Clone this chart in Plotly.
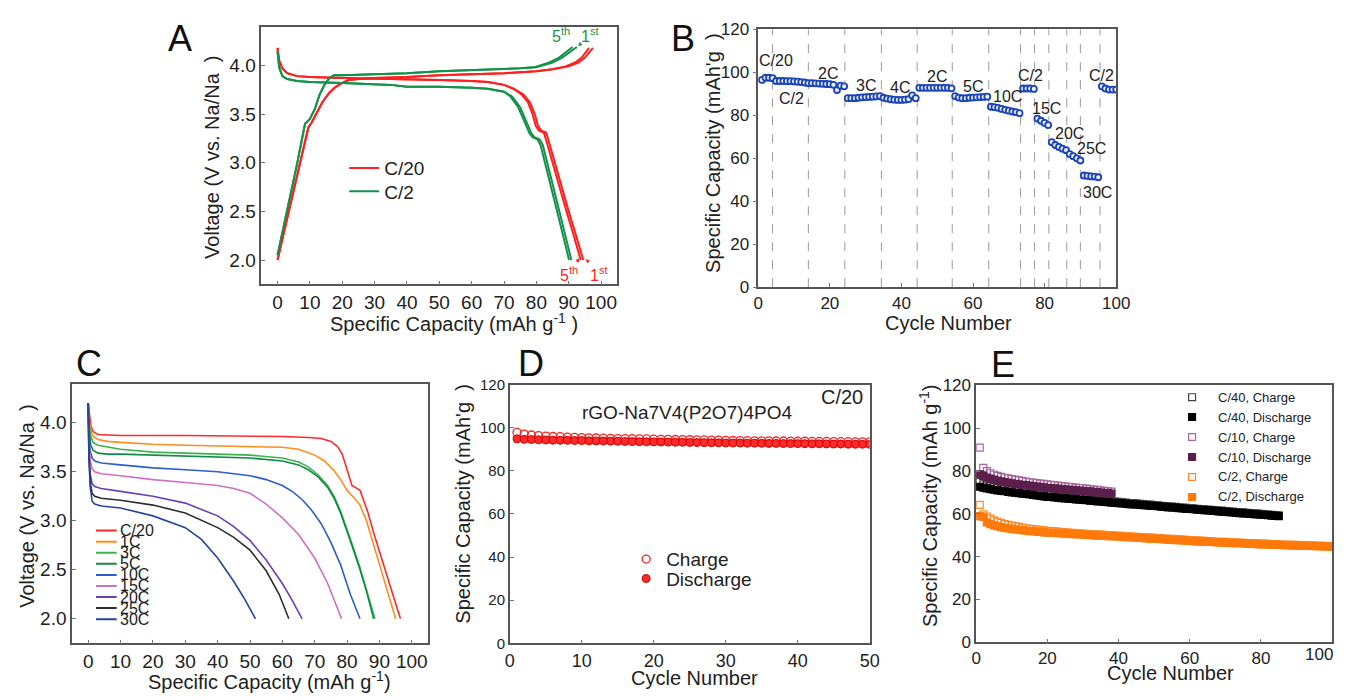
import plotly.graph_objects as go

FONT = "Arial, 'Liberation Sans', Helvetica, sans-serif"
NARROW = "'Liberation Sans Narrow', 'Arial Narrow', Arial, sans-serif"
W, H = 1352, 700

# ---------------- Panel A data (charge / discharge, 1st and 5th cycles) ----------------
A_c20_ch1_x = [0, 3, 6, 9.5, 10.5, 12, 14, 16, 18, 20, 22, 25, 30, 40, 50, 60, 70, 80, 85, 90, 93, 95, 96.5, 97.5]
A_c20_ch1_y = [2.0, 2.42, 2.84, 3.36, 3.41, 3.50, 3.63, 3.72, 3.78, 3.82, 3.85, 3.86, 3.87, 3.88, 3.90, 3.91, 3.92, 3.94, 3.96, 3.99, 4.03, 4.08, 4.14, 4.18]
A_c20_ch5_x = [0, 3, 6, 9.5, 10.5, 12, 14, 16, 18, 20, 22, 25, 30, 40, 50, 60, 70, 80, 85, 89, 92, 94, 95.3, 96.3]
A_c20_ch5_y = [2.0, 2.42, 2.84, 3.36, 3.41, 3.50, 3.63, 3.72, 3.78, 3.82, 3.85, 3.86, 3.87, 3.88, 3.90, 3.91, 3.92, 3.94, 3.96, 3.99, 4.03, 4.08, 4.14, 4.18]
A_c20_dis1_x = [0, 0.5, 1.5, 3, 6, 10, 20, 30, 40, 50, 60, 65, 70, 73, 76, 78, 79.5, 80.5, 81.5, 83, 84, 86, 88, 90, 92, 94.5]
A_c20_dis1_y = [4.18, 4.05, 3.97, 3.92, 3.89, 3.88, 3.87, 3.865, 3.86, 3.85, 3.84, 3.83, 3.80, 3.76, 3.70, 3.62, 3.50, 3.38, 3.33, 3.31, 3.20, 2.96, 2.73, 2.50, 2.28, 2.0]
A_c20_dis5_x = [0, 0.5, 1.5, 3, 6, 10, 20, 30, 40, 50, 60, 65, 70, 73, 75.5, 77.4, 78.8, 79.8, 80.8, 82.3, 83.3, 85.3, 87.3, 89.3, 91.3, 93.7]
A_c20_dis5_y = [4.18, 4.05, 3.97, 3.92, 3.89, 3.88, 3.87, 3.865, 3.86, 3.85, 3.84, 3.83, 3.80, 3.76, 3.70, 3.62, 3.50, 3.38, 3.33, 3.31, 3.20, 2.96, 2.73, 2.50, 2.28, 2.0]

A_c2_ch1_x = [0, 3, 6, 8.5, 10, 11.5, 13, 14.5, 16, 17.5, 20, 30, 40, 50, 60, 70, 75, 80, 85, 88, 90, 92.5]
A_c2_ch1_y = [2.05, 2.5, 2.98, 3.40, 3.45, 3.55, 3.70, 3.80, 3.87, 3.90, 3.90, 3.91, 3.92, 3.94, 3.95, 3.96, 3.97, 3.98, 4.03, 4.08, 4.13, 4.19]
A_c2_ch5_x = [0, 3, 6, 8.5, 10, 11.5, 13, 14.5, 16, 17.5, 20, 30, 40, 50, 60, 70, 75, 79.2, 84, 87, 89, 91.2]
A_c2_ch5_y = [2.05, 2.5, 2.98, 3.40, 3.45, 3.55, 3.70, 3.80, 3.87, 3.90, 3.90, 3.91, 3.92, 3.94, 3.95, 3.96, 3.97, 3.98, 4.03, 4.08, 4.13, 4.19]
A_c2_dis1_x = [0, 0.5, 1.5, 3, 6, 10, 20, 30, 35, 40, 50, 60, 65, 70, 72.5, 75, 77, 78.5, 79.5, 81, 82, 84, 86, 88, 90.8]
A_c2_dis1_y = [4.15, 3.98, 3.89, 3.86, 3.84, 3.83, 3.82, 3.81, 3.80, 3.78, 3.78, 3.77, 3.76, 3.73, 3.68, 3.57, 3.42, 3.30, 3.26, 3.24, 3.18, 2.92, 2.65, 2.38, 2.0]
A_c2_dis5_x = [0, 0.5, 1.5, 3, 6, 10, 20, 30, 35, 40, 50, 60, 65, 70, 72, 74.4, 76.4, 77.9, 78.9, 80.3, 81.3, 83.3, 85.3, 87.3, 90.1]
A_c2_dis5_y = [4.15, 3.98, 3.89, 3.86, 3.84, 3.83, 3.82, 3.81, 3.80, 3.78, 3.78, 3.77, 3.76, 3.73, 3.68, 3.57, 3.42, 3.30, 3.26, 3.24, 3.18, 2.92, 2.65, 2.38, 2.0]

# ---------------- Panel B data (rate capability) ----------------
B_cycle = list(range(1, 101))
B_capacity = [
    96.5, 97.5, 97.5, 97.3,
    96.0, 96.0, 96.0, 95.9, 95.9, 95.8, 95.7, 95.5, 95.3, 95.0,
    95.0, 94.9, 94.8, 94.7, 94.6, 94.5, 94.2, 91.8, 93.8, 93.5,
    88.0, 88.0, 88.0, 88.2, 88.4, 88.5, 88.6, 88.7, 88.8, 89.0,
    88.2, 87.8, 87.5, 87.3, 87.2, 87.2, 87.3, 87.6, 89.3, 88.0,
    92.8, 92.8, 92.8, 92.8, 92.8, 92.8, 92.8, 92.8, 92.8, 92.6,
    89.0, 88.3, 88.0, 88.0, 88.2, 88.3, 88.4, 88.5, 88.6, 88.7,
    84.0, 83.8, 83.5, 83.0, 82.6, 82.2, 81.8, 81.5, 81.0,
    92.5, 92.5, 92.5, 92.3,
    78.5, 77.5, 76.5, 75.5,
    67.5, 66.2, 65.3, 64.5, 63.8,
    62.0, 61.0, 60.0, 59.0,
    52.0, 51.8, 51.6, 51.5, 51.2,
    93.5, 92.5, 92.0, 92.0, 92.0,
]
B_dividers = [4, 14, 24.2, 34.4, 44.4, 54.2, 64.4, 73.3, 77.2, 81.2, 86.2, 90, 95.5]
B_labels = ["C/20", "C/2", "2C", "3C", "4C", "2C", "5C", "10C", "C/2", "15C", "20C", "25C", "30C", "C/2"]
B_label_x = [5, 9.4, 19.6, 30, 39.7, 50, 60, 69.7, 76, 80.4, 87, 93, 94.7, 96]
B_label_y = [105.4, 88, 99.5, 94, 93, 98, 93.6, 88.7, 98.6, 83.3, 71.5, 64.7, 43.9, 98.6]

# ---------------- Panel C data (discharge curves at different rates) ----------------
C_names = ["C/20", "1C", "3C", "5C", "10C", "15C", "20C", "25C", "30C"]
C_colors = ["#ff2a2a", "#ff8c1f", "#3cb44b", "#108a48", "#2c5fc8", "#d070c0", "#6a40b4", "#2e2e2e", "#25479a"]
C_x_c20 = [0, 0.3, 0.8, 1.5, 3, 6, 10, 30, 50, 60, 68, 72, 75, 77, 78.5, 79.5, 80.5, 81.5, 83, 84, 85, 86.5, 88, 90, 92.5, 94.5, 96.5]
C_y_c20 = [4.2, 4.08, 3.97, 3.91, 3.88, 3.875, 3.87, 3.87, 3.865, 3.86, 3.85, 3.84, 3.81, 3.76, 3.68, 3.58, 3.46, 3.36, 3.33, 3.31, 3.22, 3.08, 2.9, 2.68, 2.42, 2.21, 2.0]
C_x_1c = [0, 0.3, 0.8, 1.5, 3, 6, 10, 20, 30, 40, 50, 60, 65, 70, 73, 76, 78, 80, 82, 84, 86, 88, 90, 92.5, 95]
C_y_1c = [4.2, 4.02, 3.92, 3.86, 3.83, 3.81, 3.8, 3.78, 3.77, 3.765, 3.76, 3.75, 3.73, 3.67, 3.61, 3.51, 3.42, 3.31, 3.24, 3.16, 3.0, 2.78, 2.55, 2.28, 2.0]
C_x_3c = [0, 0.3, 0.8, 1.5, 3, 6, 10, 20, 30, 40, 50, 60, 65, 68, 71, 74, 76, 78, 80, 82, 84, 86, 88.6]
C_y_3c = [4.2, 3.98, 3.86, 3.8, 3.77, 3.75, 3.73, 3.70, 3.69, 3.68, 3.67, 3.64, 3.60, 3.55, 3.47, 3.36, 3.25, 3.10, 2.92, 2.72, 2.52, 2.30, 2.0]
C_x_5c = [0, 0.3, 0.8, 1.5, 3, 6, 10, 20, 30, 40, 50, 60, 65, 68, 71, 74, 76, 78, 80, 82, 84, 86, 88.2]
C_y_5c = [4.2, 3.9, 3.77, 3.72, 3.69, 3.68, 3.68, 3.67, 3.66, 3.65, 3.64, 3.61, 3.57, 3.52, 3.45, 3.34, 3.23, 3.08, 2.90, 2.70, 2.50, 2.28, 2.0]
C_x_10c = [0, 0.2, 0.6, 1.2, 2, 4, 10, 20, 30, 40, 45, 50, 55, 60, 63, 66, 69, 72, 75, 78, 81, 84]
C_y_10c = [4.2, 3.9, 3.72, 3.64, 3.61, 3.59, 3.57, 3.54, 3.52, 3.50, 3.48, 3.46, 3.42, 3.36, 3.30, 3.22, 3.11, 2.97, 2.78, 2.55, 2.25, 2.0]
C_x_15c = [0, 0.2, 0.6, 1.2, 2, 4, 10, 20, 30, 40, 45, 50, 55, 60, 65, 70, 74, 78.3]
C_y_15c = [4.2, 3.85, 3.62, 3.53, 3.5, 3.48, 3.46, 3.42, 3.39, 3.36, 3.33, 3.28, 3.17, 3.03, 2.86, 2.62, 2.36, 2.0]
C_x_20c = [0, 0.2, 0.6, 1.2, 2, 4, 10, 20, 30, 40, 45, 50, 55, 60, 63, 66.1]
C_y_20c = [4.2, 3.75, 3.48, 3.38, 3.35, 3.33, 3.30, 3.25, 3.18, 3.05, 2.94, 2.80, 2.60, 2.36, 2.19, 2.0]
C_x_25c = [0, 0.2, 0.6, 1.2, 2, 4, 10, 20, 30, 40, 45, 50, 55, 59, 62]
C_y_25c = [4.2, 3.7, 3.4, 3.28, 3.25, 3.23, 3.21, 3.16, 3.08, 2.93, 2.83, 2.70, 2.49, 2.25, 2.0]
C_x_30c = [0, 0.2, 0.6, 1.2, 2, 4, 10, 20, 30, 35, 40, 45, 48, 51.7]
C_y_30c = [4.2, 3.65, 3.35, 3.2, 3.17, 3.15, 3.13, 3.05, 2.93, 2.81, 2.62, 2.38, 2.22, 2.0]
C_xs = [C_x_c20, C_x_1c, C_x_3c, C_x_5c, C_x_10c, C_x_15c, C_x_20c, C_x_25c, C_x_30c]
C_ys = [C_y_c20, C_y_1c, C_y_3c, C_y_5c, C_y_10c, C_y_15c, C_y_20c, C_y_25c, C_y_30c]

# ---------------- Panel D data (C/20 cycling) ----------------
D_cycle = list(range(1, 51))
D_charge = [97.8, 97.0, 96.6, 96.3, 96.1, 95.9, 95.8, 95.6, 95.5, 95.4,
            95.3, 95.2, 95.1, 95.0, 94.95, 94.9, 94.85, 94.8, 94.75, 94.7,
            94.6, 94.55, 94.5, 94.45, 94.4, 94.35, 94.3, 94.25, 94.2, 94.1,
            94.05, 94.0, 93.95, 93.9, 93.9, 93.85, 93.8, 93.8, 93.75, 93.7,
            93.7, 93.65, 93.6, 93.6, 93.55, 93.5, 93.5, 93.45, 93.4, 93.4]
D_discharge = [94.8, 94.6, 94.5, 94.4, 94.3, 94.2, 94.15, 94.1, 94.05, 94.0,
               93.9, 93.85, 93.8, 93.75, 93.7, 93.6, 93.55, 93.5, 93.45, 93.4,
               93.35, 93.3, 93.25, 93.2, 93.15, 93.1, 93.05, 93.0, 92.95, 92.9,
               92.9, 92.85, 92.8, 92.8, 92.75, 92.7, 92.7, 92.65, 92.6, 92.6,
               92.55, 92.5, 92.5, 92.45, 92.4, 92.4, 92.35, 92.3, 92.3, 92.25]

# ---------------- Panel E data (long cycling at C/40, C/10, C/2) ----------------
E_c40_charge = [74.8, 73.8, 73.2, 72.8, 72.4, 72.1, 71.8, 71.6, 71.3, 71.1,
                70.8, 70.6, 70.4, 70.2, 70.0, 69.8, 69.5, 69.3, 69.1, 68.9,
                68.7, 68.5, 68.4, 68.2, 68.0, 67.8, 67.7, 67.5, 67.4, 67.2,
                67.0, 66.8, 66.7, 66.5, 66.4, 66.2, 66.0, 65.9, 65.7, 65.6,
                65.4, 65.3, 65.1, 65.0, 64.9, 64.7, 64.6, 64.4, 64.3, 64.1,
                64.0, 63.8, 63.7, 63.5, 63.4, 63.3, 63.1, 63.0, 62.8, 62.7,
                62.6, 62.4, 62.3, 62.1, 62.0, 61.9, 61.7, 61.6, 61.5, 61.3,
                61.2, 61.1, 60.9, 60.8, 60.7, 60.5, 60.4, 60.3, 60.1, 60.0,
                59.9, 59.7, 59.6, 59.5, 59.3]
E_c40_discharge = [72.7, 72.3, 71.9, 71.6, 71.3, 71.0, 70.8, 70.6, 70.3, 70.1,
                   69.9, 69.7, 69.5, 69.3, 69.1, 68.9, 68.6, 68.4, 68.2, 68.0,
                   67.9, 67.7, 67.6, 67.4, 67.3, 67.1, 67.0, 66.8, 66.7, 66.5,
                   66.4, 66.2, 66.1, 65.9, 65.8, 65.6, 65.5, 65.3, 65.2, 65.0,
                   64.9, 64.8, 64.6, 64.5, 64.4, 64.2, 64.1, 64.0, 63.8, 63.7,
                   63.6, 63.4, 63.3, 63.1, 63.0, 62.9, 62.7, 62.6, 62.4, 62.3,
                   62.2, 62.0, 61.9, 61.8, 61.6, 61.5, 61.4, 61.2, 61.1, 61.0,
                   60.8, 60.7, 60.6, 60.4, 60.3, 60.2, 60.0, 59.9, 59.8, 59.6,
                   59.5, 59.4, 59.2, 59.1, 59.0]
E_c10_charge = [91.0, 81.5, 80.0, 79.0, 78.3, 77.8, 77.3, 76.9, 76.6, 76.3,
                76.0, 75.7, 75.4, 75.1, 74.8, 74.6, 74.4, 74.2, 74.0, 73.8,
                73.6, 73.4, 73.2, 73.0, 72.8, 72.6, 72.5, 72.3, 72.1, 72.0,
                71.8, 71.6, 71.4, 71.2, 71.0, 70.8, 70.6, 70.4]
E_c10_discharge = [78.5, 77.8, 77.0, 76.5, 76.0, 75.6, 75.2, 74.9, 74.6, 74.3,
                   74.0, 73.8, 73.6, 73.4, 73.2, 73.0, 72.8, 72.6, 72.4, 72.2,
                   72.1, 71.9, 71.8, 71.6, 71.5, 71.3, 71.2, 71.0, 70.9, 70.8,
                   70.6, 70.5, 70.3, 70.2, 70.0, 69.9, 69.7, 69.5]
E_c2_charge = [64.2, 59.8, 58.8, 57.8, 57.0, 56.3, 55.8, 55.3, 54.9, 54.5,
               54.2, 53.9, 53.6, 53.3, 53.1, 52.9, 52.7, 52.5, 52.3, 52.1,
               52.0, 51.8, 51.7, 51.5, 51.4, 51.3, 51.1, 51.0, 50.9, 50.8,
               50.7, 50.6, 50.5, 50.4, 50.3, 50.2, 50.1, 50.0, 49.9, 49.8,
               49.7, 49.6, 49.5, 49.4, 49.3, 49.2, 49.1, 49.0, 48.9, 48.8,
               48.7, 48.6, 48.5, 48.4, 48.3, 48.2, 48.1, 48.0, 47.9, 47.8,
               47.7, 47.6, 47.5, 47.4, 47.3, 47.2, 47.1, 47.0, 46.9, 46.9,
               46.8, 46.7, 46.6, 46.6, 46.5, 46.4, 46.3, 46.3, 46.2, 46.1,
               46.1, 46.0, 45.9, 45.9, 45.8, 45.7, 45.7, 45.6, 45.5, 45.5,
               45.4, 45.4, 45.3, 45.3, 45.2, 45.2, 45.1, 45.1, 45.0, 45.0]
E_c2_discharge = [59.0, 58.6, 56.0, 55.2, 54.6, 54.2, 53.8, 53.5, 53.2, 53.0,
                  52.8, 52.6, 52.4, 52.2, 52.0, 51.9, 51.7, 51.6, 51.4, 51.3,
                  51.2, 51.1, 51.0, 50.9, 50.8, 50.7, 50.6, 50.5, 50.4, 50.3,
                  50.2, 50.1, 50.0, 49.9, 49.8, 49.7, 49.6, 49.6, 49.5, 49.4,
                  49.3, 49.2, 49.1, 49.0, 48.9, 48.8, 48.7, 48.6, 48.5, 48.4,
                  48.3, 48.2, 48.1, 48.0, 47.9, 47.8, 47.7, 47.6, 47.5, 47.4,
                  47.3, 47.2, 47.1, 47.0, 47.0, 46.9, 46.8, 46.7, 46.6, 46.6,
                  46.5, 46.4, 46.3, 46.3, 46.2, 46.1, 46.0, 46.0, 45.9, 45.8,
                  45.8, 45.7, 45.6, 45.6, 45.5, 45.4, 45.4, 45.3, 45.2, 45.2,
                  45.1, 45.1, 45.0, 45.0, 44.9, 44.9, 44.8, 44.8, 44.7, 44.7]
E_xticks = [0, 20, 40, 60, 80, 100]

RED = "#ff1f1f"
GREEN = "#15924a"
INK = "#222222"

fig = go.Figure()

# ---- Panel A traces ----
for xs, ys, col, name, show, lg in [
    (A_c2_ch5_x, A_c2_ch5_y, GREEN, "C/2", False, "legend4"),
    (A_c2_dis5_x, A_c2_dis5_y, GREEN, "C/2", False, "legend4"),
    (A_c20_ch5_x, A_c20_ch5_y, RED, "C/20", False, "legend"),
    (A_c20_dis5_x, A_c20_dis5_y, RED, "C/20", False, "legend"),
    (A_c20_ch1_x, A_c20_ch1_y, RED, "C/20", True, "legend"),
    (A_c20_dis1_x, A_c20_dis1_y, RED, "C/20", False, "legend"),
    (A_c2_ch1_x, A_c2_ch1_y, GREEN, "C/2", True, "legend4"),
    (A_c2_dis1_x, A_c2_dis1_y, GREEN, "C/2", False, "legend4"),
]:
    fig.add_trace(go.Scatter(x=xs, y=ys, mode="lines", line=dict(color=col, width=2),
                             name=name, showlegend=show, legend=lg,
                             xaxis="x", yaxis="y"))

# ---- Panel B traces ----
fig.add_trace(go.Scatter(x=B_cycle, y=B_capacity, mode="markers", showlegend=False,
                         marker=dict(symbol="circle", size=6, color="#eef2fd",
                                     line=dict(color="#1a44b8", width=1.8)),
                         xaxis="x2", yaxis="y2"))

# ---- Panel C traces ----
for xs, ys, col, name in zip(C_xs, C_ys, C_colors, C_names):
    fig.add_trace(go.Scatter(x=xs, y=ys, mode="lines", line=dict(color=col, width=1.6),
                             name=name, showlegend=False, xaxis="x3", yaxis="y3"))

# ---- Panel D traces ----
fig.add_trace(go.Scatter(x=D_cycle, y=D_charge, mode="markers", name="Charge",
                         marker=dict(symbol="circle-open", size=8, color="#ff2020",
                                     line=dict(width=1.3)),
                         legend="legend2", xaxis="x4", yaxis="y4"))
fig.add_trace(go.Scatter(x=D_cycle, y=D_discharge, mode="markers", name="Discharge",
                         marker=dict(symbol="circle", size=8, color="#ff2a2a",
                                     line=dict(color="#d00000", width=1)),
                         legend="legend5", xaxis="x4", yaxis="y4"))

# ---- Panel E traces ----
E_series = [
    ("C/40, Charge", E_c40_charge, False, "#444444"),
    ("C/40, Discharge", E_c40_discharge, True, "#000000"),
    ("C/10, Charge", E_c10_charge, False, "#a8659e"),
    ("C/10, Discharge", E_c10_discharge, True, "#5b1f4b"),
    ("C/2, Charge", E_c2_charge, False, "#ff8a2a"),
    ("C/2, Discharge", E_c2_discharge, True, "#ff7a0a"),
]
for name, ys, filled, col in E_series:
    fig.add_trace(go.Scatter(x=list(range(1, len(ys) + 1)), y=ys, mode="markers", name=name,
                             showlegend=False,
                             marker=dict(symbol="square" if filled else "square-open", size=7,
                                         color=col, line=dict(width=1.2, color=col)),
                             xaxis="x5", yaxis="y5"))


def ydom(top, bottom):
    return [1 - bottom / H, 1 - top / H]


def xdom(left, right):
    return [left / W, right / W]


def axis(**kw):
    base = dict(showline=True, mirror=True, linecolor="#555555", linewidth=1.5,
                ticks="inside", ticklen=4, tickcolor="#777777", showgrid=False,
                zeroline=False, tickfont=dict(family=FONT, size=19, color=INK))
    base.update(kw)
    return base


def leg(left, top, size=19):
    return dict(x=left / W, y=1 - top / H, xanchor="left", yanchor="top",
                bgcolor="rgba(0,0,0,0)", font=dict(family=FONT, size=size, color=INK))


layout = dict(
    width=W, height=H, margin=dict(l=0, r=0, t=0, b=0),
    paper_bgcolor="white", plot_bgcolor="white",
    font=dict(family=FONT, color=INK),
    # Panel A
    xaxis=axis(domain=xdom(260, 621), range=[-5, 105], tickvals=list(range(0, 101, 10)), anchor="y"),
    yaxis=axis(domain=ydom(18, 283), range=[1.75, 4.4], tickvals=[2.0, 2.5, 3.0, 3.5, 4.0],
               tickformat=".1f", anchor="x"),
    # Panel B
    xaxis2=axis(domain=xdom(764, 1127), range=[0, 100], tickvals=list(range(0, 101, 20)),
                anchor="y2", tickfont=dict(family=NARROW, size=17, color=INK)),
    yaxis2=axis(domain=ydom(21, 286), range=[0, 120], tickvals=list(range(0, 121, 20)),
                anchor="x2", ticks="outside",
                tickfont=dict(family=NARROW, size=17, color=INK)),
    # Panel C
    xaxis3=axis(domain=xdom(68, 429), range=[-5, 105], tickvals=list(range(0, 101, 10)), anchor="y3"),
    yaxis3=axis(domain=ydom(385, 652), range=[1.75, 4.4], tickvals=[2.0, 2.5, 3.0, 3.5, 4.0],
                tickformat=".1f", anchor="x3"),
    # Panel D
    xaxis4=axis(domain=xdom(512, 877), range=[0, 50], tickvals=list(range(0, 51, 10)), anchor="y4",
                tickfont=dict(family=FONT, size=18, color=INK)),
    yaxis4=axis(domain=ydom(386, 652), range=[0, 120], tickvals=list(range(0, 121, 20)),
                anchor="x4", tickfont=dict(family=FONT, size=15, color=INK)),
    # Panel E
    xaxis5=axis(domain=xdom(985, 1346), range=[0, 100], tickvals=E_xticks,
                ticktext=[str(v) if v < 100 else "" for v in E_xticks],
                anchor="y5", tickfont=dict(family=FONT, size=17, color=INK)),
    yaxis5=axis(domain=ydom(387, 651), range=[0, 120], tickvals=list(range(0, 121, 20)),
                anchor="x5", tickfont=dict(family=FONT, size=17, color=INK)),
    legend=leg(344, 144),
    legend4=leg(344, 168),
    legend2=leg(630, 546),
    legend5=leg(630, 566),
)
fig.update_layout(**layout)

annotations = []
shapes = []


def paper_text(text, px, py, size, angle=0, color=INK, xanchor="center"):
    return dict(text=text, x=px / W, y=1 - py / H, xref="paper", yref="paper",
                xanchor=xanchor, yanchor="middle", showarrow=False, textangle=angle,
                font=dict(family=FONT, size=size, color=color))


# Panel letters
for letter, px, py in [("A", 177, 30), ("B", 688, 30), ("C", 85, 364), ("D", 533, 364), ("E", 1012, 365)]:
    annotations.append(paper_text(letter, px, py, 36, color="#111111"))

# Axis titles
for text, px, py, angle in [
    ("Specific Capacity (mAh g<sup>-1</sup> )", 455, 322, 0),
    ("Voltage (V vs. Na/Na  )", 210, 153, -90),
    ("Cycle Number", 957, 323, 0),
    ("Specific Capacity (mAh'g  )", 718, 148, -90),
    ("Specific Capacity (mAh g<sup>-1</sup>)", 268, 690, 0),
    ("Voltage (V vs. Na/Na  )", 22, 511, -90),
    ("Cycle Number", 699, 688, 0),
    ("Specific Capacity (mAh'g  )", 465, 509, -90),
    ("Cycle Number", 1182, 683, 0),
    ("Specific Capacity (mAh g<sup>-1</sup>)", 936, 510, -90),
]:
    annotations.append(paper_text(text, px, py, 20, angle=angle))

# E last tick label (kept inside the canvas as in the reference)
annotations.append(paper_text("100", 1333, 664, 17))

# Panel E legend (keys + labels)
E_leg_rows = [399, 419.5, 440, 460.5, 481, 501.5]
E_key_x = 1204
for (name, ys, filled, col), ry in zip(E_series, E_leg_rows):
    shapes.append(dict(type="rect", xref="paper", yref="paper",
                       x0=(E_key_x - 3.5) / W, x1=(E_key_x + 3.5) / W,
                       y0=1 - (ry + 3.5) / H, y1=1 - (ry - 3.5) / H,
                       line=dict(color=col, width=1.2),
                       fillcolor=col if filled else "white"))
    annotations.append(paper_text(name, 1228, ry, 13, xanchor="left"))

# Panel A cycle markers with arrows
A_notes = [
    ("5<sup>th</sup>", 90.6, 4.19, 87.5, 4.31, GREEN),
    ("1<sup>st</sup>", 92.9, 4.2, 96.8, 4.31, GREEN),
    ("5<sup>th</sup>", 93.3, 2.02, 90.2, 1.86, RED),
    ("1<sup>st</sup>", 95.3, 2.01, 99.4, 1.86, RED),
]
for txt, hx, hy, tx, ty, col in A_notes:
    annotations.append(dict(text=txt, x=hx, y=hy, ax=tx, ay=ty, xref="x", yref="y",
                            axref="x", ayref="y", showarrow=True, arrowhead=2,
                            arrowsize=0.8, arrowwidth=1, arrowcolor=col,
                            font=dict(family=FONT, size=16, color=col)))

# Panel B rate labels and dividers
for lab, lx, ly in zip(B_labels, B_label_x, B_label_y):
    annotations.append(dict(text=lab, x=lx, y=ly, xref="x2", yref="y2", showarrow=False,
                            xanchor="center", yanchor="middle",
                            font=dict(family=FONT, size=16, color=INK)))
for dx in B_dividers:
    shapes.append(dict(type="line", xref="x2", yref="y2 domain", x0=dx, x1=dx, y0=0, y1=1,
                       line=dict(color="#9a9a9a", width=1, dash="dash"), layer="below"))

# Panel C legend (tightly stacked, as in the reference)
C_leg_y0 = 2.9
C_leg_step = 0.113
for i, (name, col) in enumerate(zip(C_names, C_colors)):
    yy = C_leg_y0 - i * C_leg_step
    shapes.append(dict(type="line", xref="x3", yref="y3", x0=2.4, x1=8.8, y0=yy, y1=yy,
                       line=dict(color=col, width=2)))
    annotations.append(dict(text=name, x=9.2, y=yy, xref="x3", yref="y3", showarrow=False,
                            xanchor="left", yanchor="middle",
                            font=dict(family=FONT, size=16, color=INK)))

# Panel D texts
annotations.append(paper_text("C/20", 849, 399, 20))
annotations.append(paper_text("rGO-Na7V4(P2O7)4PO4", 692, 415, 19))

fig.update_layout(annotations=annotations, shapes=shapes)
fig.write_html("out.html", config={"displayModeBar": False},
               post_script="document.body.style.margin='0';document.body.style.overflow='hidden';")
